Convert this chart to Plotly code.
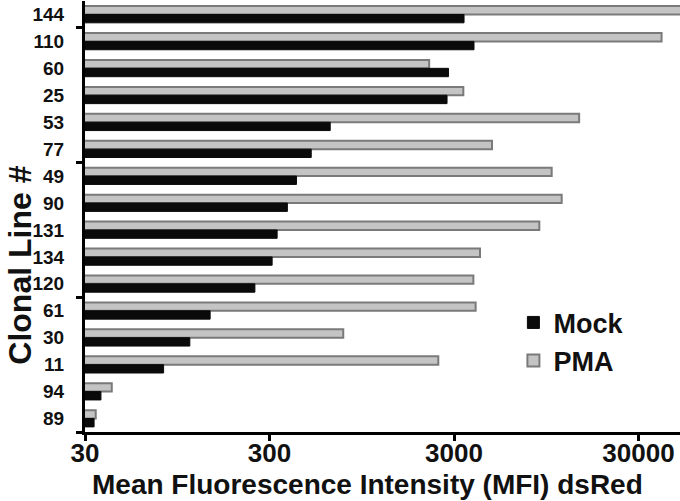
import plotly.graph_objects as go

# clonal lines, top to bottom
clones = ["144", "110", "60", "25", "53", "77", "49", "90",
          "131", "134", "120", "61", "30", "11", "94", "89"]
mock = [3400, 3850, 2800, 2750, 640, 505, 420, 375,
        330, 310, 250, 143, 111, 80, 36.6, 33.6]
pma = [55000, 40000, 2200, 3370, 14300, 4820, 10150, 11500,
       8700, 4150, 3820, 3930, 753, 2466, 41.9, 34.3]
x_ticks = [30, 300, 3000, 30000]

pos = list(range(len(clones)))
# tick marks every 5 clones counted from the bottom
group_edges = [len(clones) - 0.5 - 5 * k for k in range(4)]

font_family = "Liberation Sans, Arial, Helvetica, sans-serif"

fig = go.Figure()
fig.add_trace(go.Bar(
    y=pos, x=pma, name="PMA", orientation="h", legendrank=2,
    marker=dict(color="#c4c4c4", line=dict(color="#7a7a7a", width=2)),
))
fig.add_trace(go.Bar(
    y=pos, x=mock, name="Mock", orientation="h", legendrank=1,
    marker=dict(color="#0a0a0a", line=dict(color="#0a0a0a", width=1)),
))

fig.update_layout(
    width=680, height=501,
    margin=dict(l=85, r=0, t=1, b=69),
    paper_bgcolor="white", plot_bgcolor="white",
    barmode="group", bargap=0.38, bargroupgap=0,
    font=dict(family=font_family, color="#111111", weight="bold"),
    showlegend=True,
    legend=dict(
        x=0.72, y=0.31, xanchor="left", yanchor="top",
        font=dict(size=27, family=font_family, weight="bold"),
        bgcolor="rgba(0,0,0,0)", tracegroupgap=4,
    ),
)

fig.update_xaxes(
    type="log", range=[1.4771, 4.702],
    tickvals=x_ticks, ticktext=[str(v) for v in x_ticks],
    ticks="outside", ticklen=6, tickwidth=3, tickcolor="black",
    ticklabelstandoff=-10,
    tickfont=dict(size=26, weight="bold"),
    showline=True, linecolor="black", linewidth=3,
    showgrid=False, zeroline=False,
)

fig.update_yaxes(
    range=[len(clones) - 0.5, -0.5],
    tickvals=pos, ticktext=clones,
    ticks="outside", ticklen=0,
    ticklabelstandoff=14,
    tickfont=dict(size=19, weight="bold"),
    minor=dict(tickvals=group_edges, ticks="outside", ticklen=6,
               tickwidth=3, tickcolor="black", showgrid=False),
    showline=True, linecolor="black", linewidth=3,
    showgrid=False, zeroline=False,
)

# axis titles as annotations so they sit where the original puts them
fig.add_annotation(
    text="Mean Fluorescence Intensity (MFI) dsRed",
    xref="paper", yref="paper", x=0.475, y=-0.121,
    xanchor="center", yanchor="middle", showarrow=False,
    font=dict(size=28, weight="bold", color="#111111"),
)
fig.add_annotation(
    text="Clonal Line #", textangle=-90,
    xref="paper", yref="paper", x=-0.1084, y=0.387,
    xanchor="center", yanchor="middle", showarrow=False,
    font=dict(size=32, weight="bold", color="#111111"),
)

# the page's default body margin would shift the figure by 8px
fig.write_html("out.html", config={"displayModeBar": False},
               post_script="document.body.style.margin = '0';")
